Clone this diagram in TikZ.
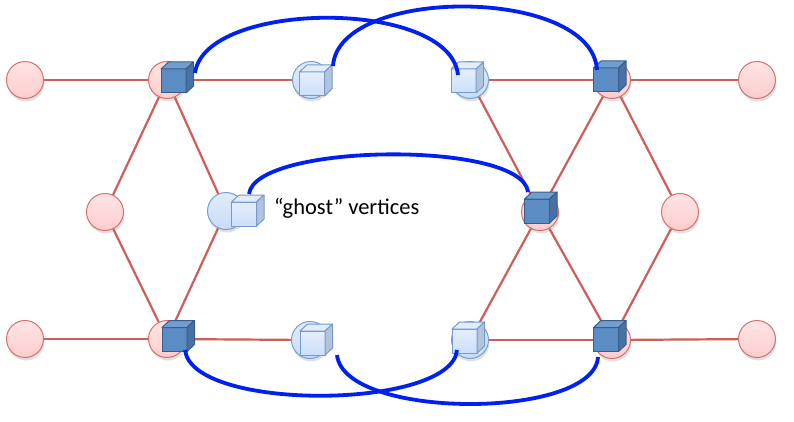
\documentclass[tikz,border=0pt]{standalone}
\usepackage{fontspec}
\setmainfont{Carlito}
\definecolor{edgec}{RGB}{205,95,90}
\definecolor{pinkf}{RGB}{253,205,205}
\definecolor{pinkt}{RGB}{255,228,228}
\definecolor{pinkb}{RGB}{214,112,106}
\definecolor{ghostf}{RGB}{200,220,245}
\definecolor{ghostt}{RGB}{225,236,250}
\definecolor{ghostb}{RGB}{118,158,210}
\definecolor{dfront}{RGB}{92,140,196}
\definecolor{dtop}{RGB}{112,158,208}
\definecolor{dside}{RGB}{72,114,165}
\definecolor{dbord}{RGB}{58,94,140}
\definecolor{lfront}{RGB}{205,223,250}
\definecolor{lfrontt}{RGB}{228,238,252}
\definecolor{ltop}{RGB}{226,236,251}
\definecolor{lside}{RGB}{178,196,220}
\definecolor{lbord}{RGB}{118,154,205}
\definecolor{arcc}{RGB}{0,32,240}
\pgfdeclarelayer{backdrop}
\pgfdeclarelayer{edgelayer}
\pgfsetlayers{backdrop,edgelayer,main}
\begin{document}
\begin{tikzpicture}[x=1pt,y=-1pt,
  pinkv/.style={circle,minimum size=37pt,inner sep=0pt,draw=pinkb,line width=1pt,top color=pinkt,bottom color=pinkf},
  ghostv/.style={circle,minimum size=37pt,inner sep=0pt,draw=ghostb,line width=1pt,top color=ghostt,bottom color=ghostf},
  edge/.style={draw=edgec,line width=2.2pt},
  arcline/.style={draw=arcc,line width=3.8pt},
  darkcube/.pic={
    \filldraw[fill=dfront,draw=dbord,line width=1pt] (-12.5,-12) rectangle (12.5,12);
    \filldraw[fill=dtop,draw=dbord,line width=1pt,line join=round] (-12.5,-12) -- (-5,-19) -- (20,-19) -- (12.5,-12) -- cycle;
    \filldraw[fill=dside,draw=dbord,line width=1pt,line join=round] (12.5,-12) -- (20,-19) -- (20,5) -- (12.5,12) -- cycle;
  },
  lightcube/.pic={
    \filldraw[top color=lfrontt,bottom color=lfront,draw=lbord,line width=1pt] (-12.5,-12) rectangle (12.5,12);
    \filldraw[fill=ltop,draw=lbord,line width=1pt,line join=round] (-12.5,-12) -- (-5,-19) -- (20,-19) -- (12.5,-12) -- cycle;
    \filldraw[fill=lside,draw=lbord,line width=1pt,line join=round] (12.5,-12) -- (20,-19) -- (20,5) -- (12.5,12) -- cycle;
  }]
\begin{pgfonlayer}{backdrop}
\fill[white] (0,0) rectangle (794,422);
\foreach \p in {(25,80),(105,212),(25,339),(167,80),(167,339),(757,80),(680,212),(757,339),(612,80),(540,212),(612,340),(311,80),(226,211),(310,340),(470,80),(470,340)}
  \fill[black,opacity=0.12] \p ++(1,3) circle (18.5);
\end{pgfonlayer}
\useasboundingbox (0,0) rectangle (794,422);

% vertices
\node[pinkv] (l1) at (25,80) {};
\node[pinkv] (l2) at (105,212) {};
\node[pinkv] (l3) at (25,339) {};
\node[pinkv] (h1) at (167,80) {};
\node[pinkv] (h2) at (167,339) {};
\node[pinkv] (r1) at (757,80) {};
\node[pinkv] (r2) at (680,212) {};
\node[pinkv] (r3) at (757,339) {};
\node[pinkv] (k1) at (612,80) {};
\node[pinkv] (k2) at (540,212) {};
\node[pinkv] (k3) at (612,340) {};
\node[ghostv] (g1) at (311,80) {};
\node[ghostv] (g2) at (226,211) {};
\node[ghostv] (g3) at (310,340) {};
\node[ghostv] (g4) at (470,80) {};
\node[ghostv] (g5) at (470,340) {};

% edges (behind vertices)
\begin{pgfonlayer}{edgelayer}
\draw[edge] (l1) -- (h1);
\draw[edge] (h1) -- (g1);
\draw[edge] (h1) -- (l2);
\draw[edge] (l2) -- (h2);
\draw[edge] (h1) -- (g2);
\draw[edge] (g2) -- (h2);
\draw[edge] (l3) -- (h2);
\draw[edge] (h2) -- (g3);
\draw[edge] (g4) -- (k1);
\draw[edge] (k1) -- (r1);
\draw[edge] (g4) -- (k2);
\draw[edge] (k1) -- (k2);
\draw[edge] (k1) -- (r2);
\draw[edge] (r2) -- (k3);
\draw[edge] (k2) -- (g5);
\draw[edge] (k2) -- (k3);
\draw[edge] (g5) -- (k3);
\draw[edge] (k3) -- (r3);
\end{pgfonlayer}

% cubes
\pic at (173.5,81) {darkcube};
\pic at (174.5,339.5) {darkcube};
\pic at (606,80) {darkcube};
\pic at (537,211) {darkcube};
\pic at (606,339.5) {darkcube};
\pic at (312,84) {lightcube};
\pic at (244,214) {lightcube};
\pic at (312.5,343) {lightcube};
\pic at (463.5,81) {lightcube};
\pic at (464.5,341) {lightcube};

% arc end points
\coordinate (a1s) at (195,73);
\coordinate (a1e) at (458,75);
\coordinate (a2s) at (333,66);
\coordinate (a2e) at (597,70);
\coordinate (a3s) at (249,194);
\coordinate (a3e) at (528,192);
\coordinate (a4s) at (185,350);
\coordinate (a4e) at (457,350);
\coordinate (a5s) at (337,355);
\coordinate (a5e) at (598,357);

\draw[arcline] (a1s) .. controls (205,0) and (450,-2) .. (a1e);
\draw[arcline] (a2s) .. controls (338,-14) and (592,-14) .. (a2e);
\draw[arcline] (a3s) .. controls (255,143) and (522,140) .. (a3e);
\draw[arcline] (a4s) .. controls (192,412) and (452,410) .. (a4e);
\draw[arcline] (a5s) .. controls (344,420) and (594,420) .. (a5e);

\node[anchor=west,inner sep=0pt,font=\fontsize{22.5}{27}\selectfont] (lab) at (274,208) {“ghost” vertices};
\end{tikzpicture}
\end{document}
